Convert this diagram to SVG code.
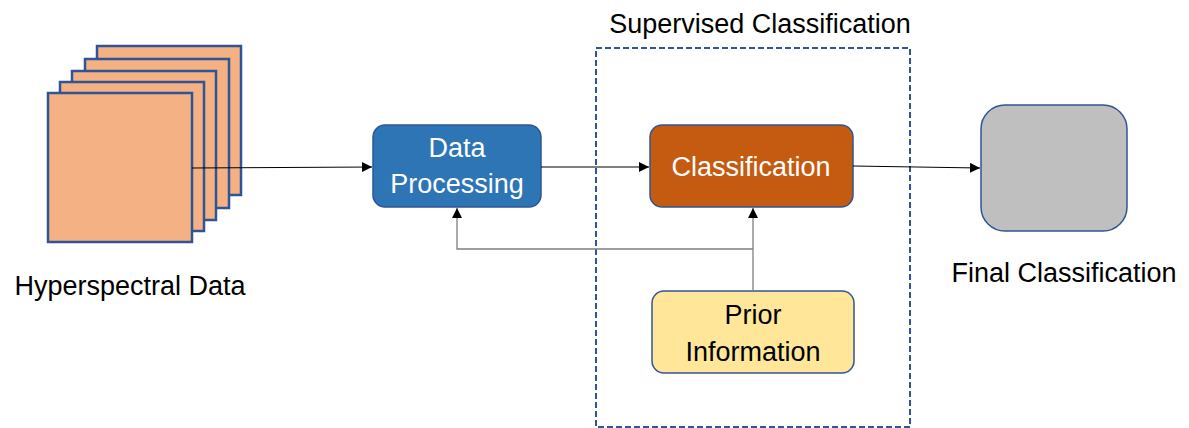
<svg xmlns="http://www.w3.org/2000/svg" width="1189" height="428" viewBox="0 0 1189 428">
<style>
.lbl{font-family:"Liberation Sans",Arial,sans-serif;font-size:27px;fill:#000;text-anchor:middle}
.wl{font-family:"Liberation Sans",Arial,sans-serif;font-size:27px;fill:#fff;text-anchor:middle}
.sq{fill:#F4B183;stroke:#2F5597;stroke-width:2.5}
.conn{fill:none;stroke:#000;stroke-width:1}
.connG{fill:none;stroke:#7F7F7F;stroke-width:1.3}
</style>
<defs>
<marker id="ah" viewBox="0 0 10 10" refX="10" refY="5" markerWidth="10" markerHeight="10" markerUnits="userSpaceOnUse" orient="auto">
<path d="M0,0 L10,5 L0,10 z" fill="#000"/>
</marker>
</defs>
<rect width="1189" height="428" fill="#fff"/>
<g id="supervised-box">
<rect x="596" y="48" width="314" height="379" fill="none" stroke="#2F5597" stroke-width="2" stroke-dasharray="6,3"/>
<text class="lbl" x="760" y="33">Supervised Classification</text>
</g>
<g id="hyperspectral">
<rect class="sq" x="97" y="46" width="144" height="149"/>
<rect class="sq" x="85" y="59" width="144" height="149"/>
<rect class="sq" x="72" y="71" width="144" height="149"/>
<rect class="sq" x="60" y="82" width="144" height="149"/>
<rect class="sq" x="48" y="93" width="144" height="149"/>
<text class="lbl" x="130" y="295">Hyperspectral Data</text>
</g>
<g id="data-processing">
<rect x="373" y="125" width="168" height="82" rx="12" fill="#2E75B6" stroke="#2F5597" stroke-width="1.5"/>
<text class="wl" x="457" y="157">Data</text>
<text class="wl" x="457" y="193">Processing</text>
</g>
<g id="classification">
<rect x="650" y="125" width="203" height="82" rx="12" fill="#C55A11" stroke="#2F5597" stroke-width="1.5"/>
<text class="wl" x="751" y="176">Classification</text>
</g>
<g id="prior-information">
<rect x="652" y="291" width="202" height="82" rx="12" fill="#FFE699" stroke="#2F5597" stroke-width="1.5"/>
<text class="lbl" x="753" y="324">Prior</text>
<text class="lbl" x="753" y="361">Information</text>
</g>
<g id="final-classification">
<rect x="981" y="105" width="146" height="126" rx="24" fill="#BFBFBF" stroke="#2F5597" stroke-width="1.5"/>
<text class="lbl" x="1064" y="282">Final Classification</text>
</g>
<g id="connectors">
<line class="conn" x1="192" y1="168" x2="372" y2="167" marker-end="url(#ah)"/>
<line class="conn" x1="541" y1="167" x2="649" y2="167" marker-end="url(#ah)"/>
<line class="conn" x1="853" y1="166" x2="980" y2="168" marker-end="url(#ah)"/>
<line class="connG" x1="753" y1="291" x2="753" y2="208" marker-end="url(#ah)"/>
<polyline class="connG" points="753,249 457,249 457,208" marker-end="url(#ah)"/>
</g>
</svg>
